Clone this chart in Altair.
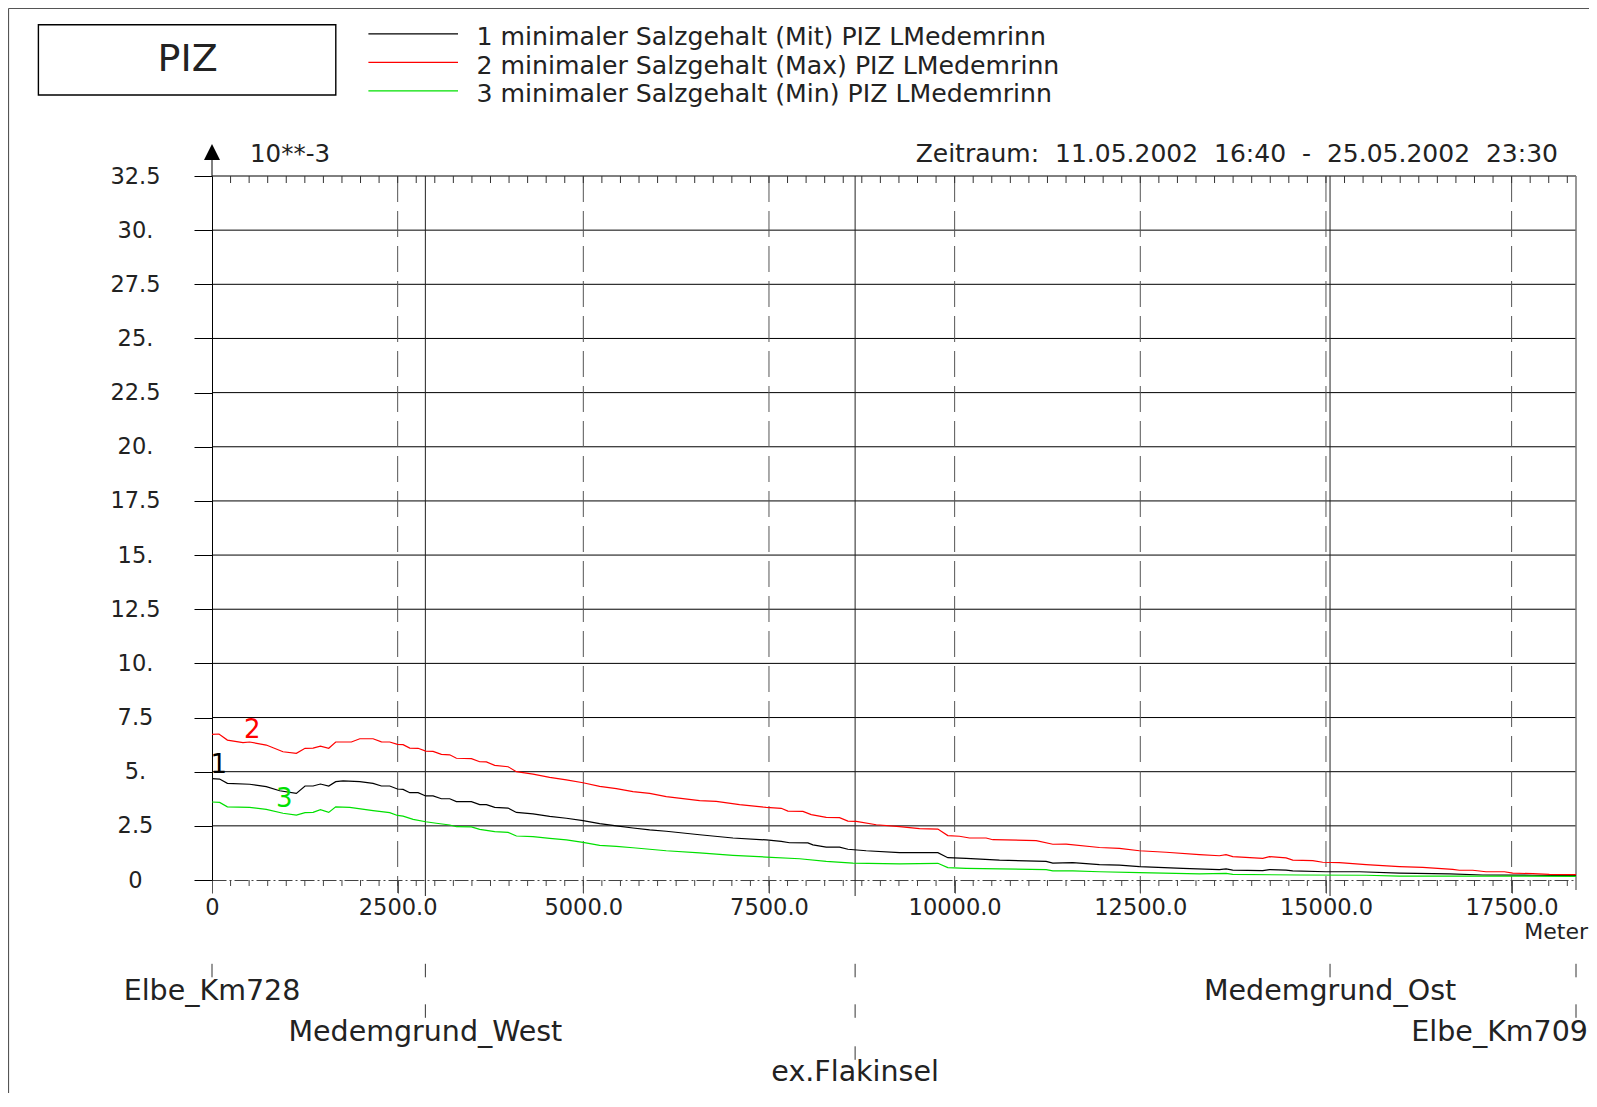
import altair as alt
import pandas as pd

# ---------------- data ----------------
series_names = ["Mit", "Max", "Min"]
series_colors = ["#000000", "#ff0000", "#00e000"]
series_tags = ["1", "2", "3"]
legend_labels = [
    "1 minimaler Salzgehalt (Mit) PIZ LMedemrinn",
    "2 minimaler Salzgehalt (Max) PIZ LMedemrinn",
    "3 minimaler Salzgehalt (Min) PIZ LMedemrinn",
]
tag_x = [90, 541, 972]
tag_y = [5.31, 6.94, 3.74]

mit_x = [0, 103, 207, 507, 731, 911, 1136, 1253, 1361, 1460, 1572, 1666, 1765, 1990, 2169, 2281, 2393, 2497, 2573, 2663,
         2775, 2878, 2977, 3089, 3201, 3291, 3493, 3605, 3695, 3807, 3987, 4099, 4323, 4547, 4772, 4996, 5220, 5445, 5669,
         5893, 6117, 6566, 7015, 7463, 7665, 7777, 8024, 8091, 8271, 8450, 8563, 8809, 9258, 9774, 9908, 10155, 10604,
         11232, 11322, 11591, 11950, 12219, 12488, 13072, 13565, 13655, 13745, 14149, 14239, 14463, 14553, 15001, 15450,
         15989, 16662, 17111, 17784, 18367]
mit_y = [4.68, 4.66, 4.46, 4.42, 4.31, 4.12, 4.0, 4.34, 4.34, 4.43, 4.34, 4.54, 4.58, 4.54, 4.46, 4.34, 4.34, 4.2, 4.18,
         4.03, 4.03, 3.88, 3.88, 3.75, 3.75, 3.62, 3.62, 3.48, 3.48, 3.35, 3.32, 3.12, 3.05, 2.94, 2.85, 2.74, 2.6, 2.5,
         2.4, 2.31, 2.25, 2.09, 1.94, 1.85, 1.78, 1.72, 1.71, 1.62, 1.52, 1.52, 1.42, 1.35, 1.26, 1.26, 1.03, 1.0, 0.92,
         0.86, 0.78, 0.8, 0.71, 0.69, 0.62, 0.54, 0.48, 0.51, 0.46, 0.43, 0.48, 0.46, 0.42, 0.38, 0.38, 0.32, 0.28, 0.23,
         0.22, 0.2]

max_x = [0, 94, 207, 417, 507, 731, 956, 1136, 1253, 1361, 1460, 1572, 1666, 1877, 1990, 2169, 2281, 2393, 2497, 2573,
         2663, 2775, 2878, 2977, 3089, 3201, 3291, 3493, 3605, 3695, 3807, 3987, 4099, 4323, 4547, 4772, 4996, 5220, 5445,
         5669, 5893, 6117, 6566, 6790, 7104, 7463, 7665, 7755, 7957, 8069, 8271, 8450, 8563, 8675, 8944, 9258, 9527, 9774,
         9908, 10065, 10200, 10424, 10514, 11098, 11322, 11502, 11950, 12219, 12488, 12847, 13296, 13565, 13655, 13745,
         14149, 14239, 14463, 14553, 14822, 14956, 15181, 15540, 15989, 16303, 16707, 16797, 16976, 17156, 17403, 17515,
         17784, 18008, 18367]
max_y = [6.72, 6.74, 6.46, 6.34, 6.37, 6.23, 5.92, 5.85, 6.08, 6.09, 6.18, 6.08, 6.37, 6.37, 6.52, 6.52, 6.38, 6.37, 6.26,
         6.25, 6.09, 6.08, 5.95, 5.94, 5.80, 5.78, 5.62, 5.60, 5.46, 5.45, 5.29, 5.23, 5.0, 4.89, 4.74, 4.62, 4.49, 4.32,
         4.22, 4.08, 4.0, 3.85, 3.66, 3.63, 3.48, 3.35, 3.31, 3.18, 3.17, 3.02, 2.89, 2.88, 2.72, 2.71, 2.55, 2.46, 2.37,
         2.35, 2.05, 2.02, 1.94, 1.94, 1.86, 1.82, 1.65, 1.66, 1.50, 1.46, 1.35, 1.28, 1.17, 1.12, 1.17, 1.08, 1.0, 1.08,
         1.02, 0.92, 0.89, 0.82, 0.8, 0.71, 0.62, 0.58, 0.49, 0.45, 0.45, 0.38, 0.38, 0.32, 0.29, 0.26, 0.25]

min_x = [0, 103, 207, 507, 731, 956, 1136, 1253, 1361, 1460, 1572, 1666, 1855, 2169, 2393, 2497, 2573, 2708, 2878, 3021,
         3201, 3291, 3493, 3605, 3807, 3987, 4099, 4323, 4547, 4772, 4996, 5220, 5445, 5669, 5893, 6117, 6566, 7015, 7463,
         7912, 8271, 8630, 9258, 9774, 9908, 10155, 11232, 11322, 11591, 11950, 12488, 13296, 13655, 13745, 14643, 15540,
         15989, 17336, 18367]
min_y = [3.6, 3.58, 3.38, 3.35, 3.26, 3.08, 3.0, 3.11, 3.12, 3.25, 3.12, 3.38, 3.35, 3.2, 3.11, 2.98, 2.95, 2.8, 2.69,
         2.62, 2.54, 2.46, 2.45, 2.34, 2.23, 2.2, 2.03, 2.0, 1.92, 1.85, 1.74, 1.6, 1.55, 1.49, 1.42, 1.35, 1.25, 1.14,
         1.06, 0.98, 0.86, 0.78, 0.74, 0.77, 0.57, 0.54, 0.48, 0.42, 0.42, 0.38, 0.34, 0.28, 0.31, 0.26, 0.23, 0.22, 0.18,
         0.18, 0.17]

y_ticks = [0, 2.5, 5, 7.5, 10, 12.5, 15, 17.5, 20, 22.5, 25, 27.5, 30, 32.5]
x_ticks = [0, 2500, 5000, 7500, 10000, 12500, 15000, 17500]
x_minor = list(range(250, 18367, 250))
X_MAX = 18367

stations = ["Elbe_Km728", "Medemgrund_West", "ex.Flakinsel", "Medemgrund_Ost", "Elbe_Km709"]
station_x = [0, 2873, 8660, 15055, 18367]
station_row = [1, 2, 3, 1, 2]
station_align = ["center", "center", "center", "center", "right"]

title_box = "PIZ"
period_text = "Zeitraum:\u00a0\u00a011.05.2002\u00a0\u00a016:40\u00a0\u00a0-\u00a0\u00a025.05.2002\u00a0\u00a023:30"
unit_text = "10**-3"
x_unit = "Meter"

# ---------------- layout ----------------
W, H = 1364, 704
FONT = "DejaVu Sans"
TXT = "#222222"
one = pd.DataFrame({"k": [0]})

xscale = alt.Scale(domain=[0, X_MAX], nice=False, zero=False)
yscale = alt.Scale(domain=[0, 32.5], nice=False, zero=True)
xaxis = alt.Axis(values=x_ticks, labelExpr="datum.value == 0 ? '0' : format(datum.value, '.1f')",
                 title=None, grid=False, domain=True, domainColor="#444444", domainDash=[14, 3, 2, 3],
                 ticks=True, tickSize=13, tickColor="#555555", labelFont=FONT, labelFontSize=22.5,
                 labelColor=TXT, labelPadding=3, labelFlush=False, labelOverlap=False)
yaxis = alt.Axis(values=y_ticks,
                 labelExpr="datum.value == 0 ? '0' : (datum.value % 1 == 0 ? format(datum.value, 'd') + '.' : format(datum.value, '.1f'))",
                 title=None, grid=False, domain=True, domainColor="black", ticks=True, tickSize=18,
                 tickColor="black", labelFont=FONT, labelFontSize=22.5, labelColor=TXT,
                 labelAlign="center", labelBaseline="middle", labelPadding=59, labelFlush=False,
                 labelOverlap=False)
X = alt.X("x:Q", scale=xscale, axis=xaxis)
Y = alt.Y("y:Q", scale=yscale, axis=yaxis)
COLOR = alt.Color("series:N", scale=alt.Scale(domain=series_names, range=series_colors), legend=None)

layers = []

# horizontal grid
layers.append(alt.Chart(pd.DataFrame({"y": y_ticks[1:]})).mark_rule(color="black", strokeWidth=1)
              .encode(y=Y, x=alt.value(0), x2=alt.value(W)))
# vertical dashed grid
layers.append(alt.Chart(pd.DataFrame({"x": x_ticks[1:]})).mark_rule(color="#555555", strokeDash=[26, 9])
              .encode(x=X, y=alt.value(0), y2=alt.value(H + 13)))
# minor ticks top / bottom
layers.append(alt.Chart(pd.DataFrame({"x": x_minor})).mark_rule(color="#333333")
              .encode(x=X, y=alt.value(0), y2=alt.value(7)))
layers.append(alt.Chart(pd.DataFrame({"x": x_minor})).mark_rule(color="#444444")
              .encode(x=X, y=alt.value(H), y2=alt.value(H + 6)))
# station lines
layers.append(alt.Chart(pd.DataFrame({"x": station_x[1:4]})).mark_rule(color="#222222")
              .encode(x=X, y=alt.value(0), y2=alt.value(H + 16)))
layers.append(alt.Chart(pd.DataFrame({"x": [X_MAX]})).mark_rule(color="#777777", strokeWidth=1.5)
              .encode(x=X, y=alt.value(0), y2=alt.value(H + 10)))
# y axis extension + arrow
layers.append(alt.Chart(pd.DataFrame({"x": [0]})).mark_rule(color="black")
              .encode(x=X, y=alt.value(-18), y2=alt.value(0)))
layers.append(alt.Chart(pd.DataFrame({"x": [0]}))
              .mark_point(shape="M0,-1L1,1L-1,1Z", filled=True, size=256, color="black", opacity=1)
              .encode(x=X, y=alt.value(-24)))

# data lines
rows = []
for name, xs, ys in zip(series_names, [mit_x, max_x, min_x], [mit_y, max_y, min_y]):
    for a, b in zip(xs, ys):
        rows.append({"x": a, "y": b, "series": name})
df_lines = pd.DataFrame(rows)
layers.append(alt.Chart(df_lines).mark_line(strokeWidth=1.2)
              .encode(x=X, y=Y, color=COLOR, detail="series:N"))

# curve tags
df_tags = pd.DataFrame({"x": tag_x, "y": tag_y, "series": series_names, "tag": series_tags})
layers.append(alt.Chart(df_tags).mark_text(font=FONT, fontSize=26, baseline="middle", align="center")
              .encode(x=X, y=Y, text="tag:N", color=COLOR))

# station ticks and labels
df_st = pd.DataFrame({"x": station_x, "name": stations, "row": station_row, "align": station_align})
tick_top = {1: 787.8, 2: 828.3, 3: 870.3}
label_base = {1: 824.3, 2: 865.3, 3: 905.0}
for k in (1, 2, 3):
    sub = df_st[df_st["row"] >= k]
    layers.append(alt.Chart(sub).mark_rule(color="#333333")
                  .encode(x=X, y=alt.value(tick_top[k]), y2=alt.value(tick_top[k] + 13.5)))
    for al in ("center", "right"):
        lab = df_st[(df_st["row"] == k) & (df_st["align"] == al)]
        if len(lab) == 0:
            continue
        layers.append(alt.Chart(lab).mark_text(font=FONT, fontSize=28.5, color=TXT, align=al,
                                               baseline="alphabetic", dx=(12 if al == "right" else 0))
                      .encode(x=X, y=alt.value(label_base[k]), text="name:N"))

# axis annotations
layers.append(alt.Chart(pd.DataFrame({"t": [unit_text]}))
              .mark_text(font=FONT, fontSize=24.5, color=TXT, align="left", baseline="alphabetic")
              .encode(x=alt.value(38), y=alt.value(-14), text="t:N"))
layers.append(alt.Chart(pd.DataFrame({"t": [period_text]}))
              .mark_text(font=FONT, fontSize=25, color=TXT, align="right", baseline="alphabetic")
              .encode(x=alt.value(1346), y=alt.value(-14), text="t:N"))
layers.append(alt.Chart(pd.DataFrame({"t": [x_unit]}))
              .mark_text(font=FONT, fontSize=22, color=TXT, align="right", baseline="alphabetic")
              .encode(x=alt.value(1376), y=alt.value(763), text="t:N"))

# title box
layers.append(alt.Chart(one).mark_rect(fillOpacity=0, stroke="black", strokeWidth=1.4)
              .encode(x=alt.value(-173.6), x2=alt.value(123.8), y=alt.value(-151.3), y2=alt.value(-81)))
layers.append(alt.Chart(pd.DataFrame({"t": [title_box]}))
              .mark_text(font=FONT, fontSize=38, color=TXT, align="center", baseline="middle")
              .encode(x=alt.value(-24.3), y=alt.value(-116), text="t:N"))

# legend
leg_line_y = [-142.1, -113.6, -85.1]
leg_text_y = [-131.0, -102.5, -74.0]
for i in range(3):
    layers.append(alt.Chart(one).mark_rule(color=series_colors[i], strokeWidth=1.3)
                  .encode(x=alt.value(156.4), x2=alt.value(246), y=alt.value(leg_line_y[i])))
    layers.append(alt.Chart(pd.DataFrame({"t": [legend_labels[i]]}))
                  .mark_text(font=FONT, fontSize=25.2, color=TXT, align="left", baseline="alphabetic")
                  .encode(x=alt.value(264.4), y=alt.value(leg_text_y[i]), text="t:N"))

# page frame (top and left)
layers.append(alt.Chart(one).mark_rule(color="#555555", strokeWidth=1.2)
              .encode(x=alt.value(-203.5), x2=alt.value(W + 30), y=alt.value(-167.5)))
layers.append(alt.Chart(one).mark_rule(color="#555555", strokeWidth=1.2)
              .encode(x=alt.value(-203.5), y=alt.value(-167.5), y2=alt.value(H + 240)))

chart = (alt.layer(*layers)
         .properties(width=W, height=H,
                     padding={"left": 204, "top": 168, "right": 13, "bottom": 213},
                     autosize=alt.AutoSizeParams(type="none"))
         .configure(font=FONT)
         .configure_view(stroke=None))

chart.save("out.html", embed_options={"renderer": "svg", "actions": False})
